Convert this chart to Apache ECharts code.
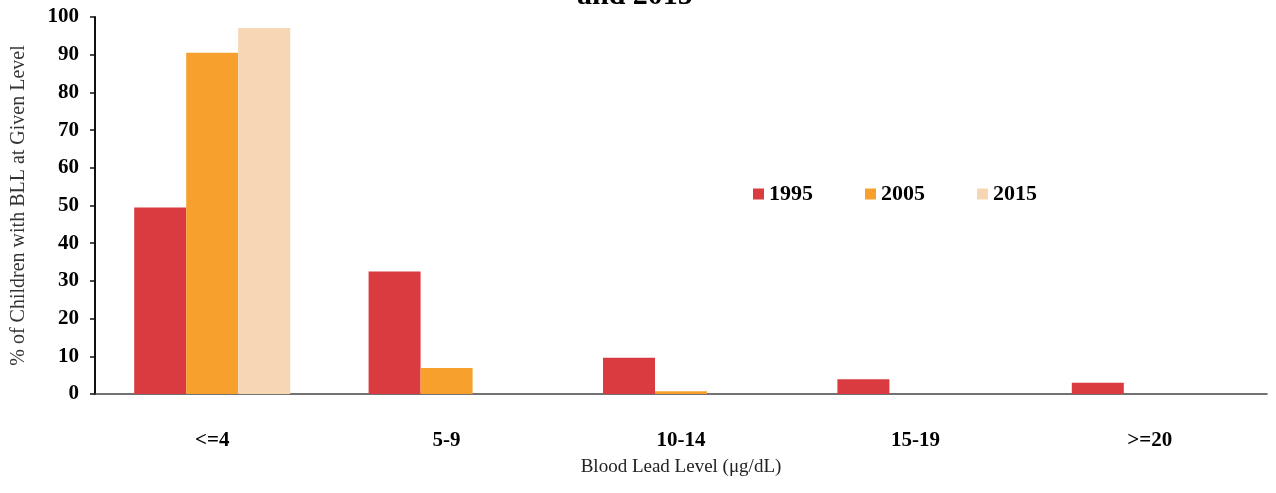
<!DOCTYPE html>
<html>
<head>
<meta charset="utf-8">
<script src="https://cdn.jsdelivr.net/npm/echarts@6/dist/echarts.min.js"></script>
<style>
  html, body { margin: 0; padding: 0; background: #fff; }
  #chart { width: 1276px; height: 493px; }
</style>
</head>
<body>
<div id="chart"></div>
<script>
// Blood lead level bands and share of children in each, by survey year
const categories = ['<=4', '5-9', '10-14', '15-19', '>=20'];
const years = ['1995', '2005', '2015'];
const values1995 = [49.5, 32.5, 9.6, 3.9, 3.0];
const values2005 = [90.5, 6.9, 0.7, 0, 0];
const values2015 = [97.1, 0, 0, 0, 0];
const yTicks = [0, 10, 20, 30, 40, 50, 60, 70, 80, 90, 100];

const colors = ['#DA3B40', '#F8A02E', '#F7D7B3'];
const serif = '"Liberation Serif", "DejaVu Serif", serif';

const chart = echarts.init(document.getElementById('chart'));
chart.setOption({
  animation: false,
  backgroundColor: '#ffffff',
  title: {
    text: 'and 2015',
    left: 572,
    top: -24,
    textStyle: { fontFamily: serif, fontWeight: 'bold', fontSize: 30, color: '#000' }
  },
  legend: {
    data: years,
    left: 748,
    top: 178,
    itemWidth: 11,
    itemHeight: 11,
    itemGap: 52,
    icon: 'rect',
    textStyle: { fontFamily: serif, fontWeight: 'bold', fontSize: 22, color: '#000' }
  },
  grid: {
    left: 95, right: 9, top: 17, bottom: 99,
    containLabel: false,
    outerBoundsMode: 'none'
  },
  xAxis: {
    type: 'category',
    data: categories,
    name: 'Blood Lead Level (μg/dL)',
    nameLocation: 'middle',
    nameGap: 64,
    nameTextStyle: { fontFamily: serif, fontSize: 19, color: '#222' },
    axisLine: { lineStyle: { color: '#444', width: 1.5 } },
    axisTick: { show: false },
    axisLabel: {
      margin: 36,
      fontFamily: serif, fontWeight: 'bold', fontSize: 21, color: '#000'
    }
  },
  yAxis: {
    type: 'value',
    min: yTicks[0],
    max: yTicks[yTicks.length - 1],
    interval: 10,
    name: '% of Children with BLL at Given Level',
    nameLocation: 'middle',
    nameGap: 66,
    nameTextStyle: { fontFamily: serif, fontSize: 20, color: '#333' },
    splitLine: { show: false },
    axisLine: { show: true, lineStyle: { color: '#111', width: 2 } },
    axisTick: { show: true, length: 5, lineStyle: { color: '#111', width: 1.5 } },
    axisLabel: {
      margin: 16,
      fontFamily: serif, fontWeight: 'bold', fontSize: 21, color: '#000'
    }
  },
  series: [
    { name: years[0], type: 'bar', data: values1995, itemStyle: { color: colors[0] } },
    { name: years[1], type: 'bar', data: values2005, itemStyle: { color: colors[1] } },
    { name: years[2], type: 'bar', data: values2015, itemStyle: { color: colors[2] } }
  ].map(s => Object.assign(s, { barWidth: 52, barGap: '0%' }))
});
</script>
</body>
</html>
